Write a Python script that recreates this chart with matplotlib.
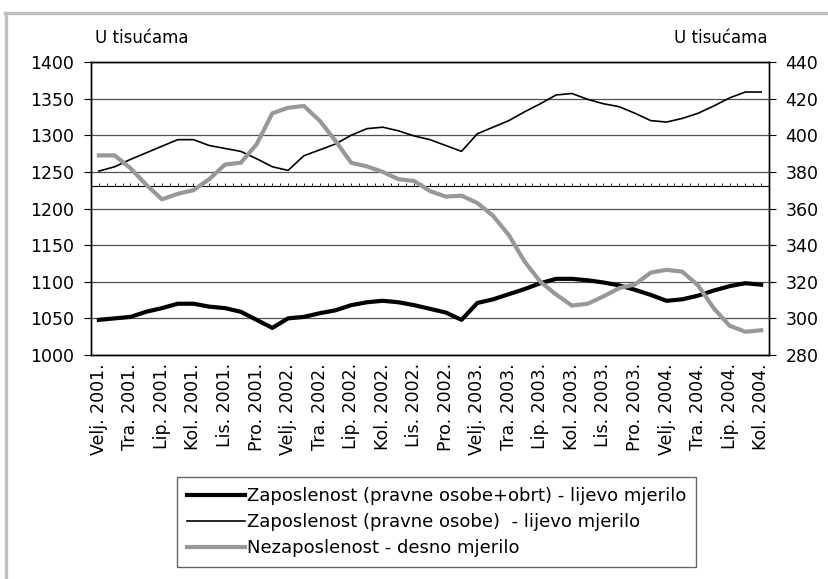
import numpy as np
import matplotlib
matplotlib.use("Agg")
import matplotlib.pyplot as plt
from matplotlib.lines import Line2D

# === DATA (monthly, Velj. 2001 - Kol. 2004) ===
tick_labels = ["Velj. 2001.", "Tra. 2001.", "Lip. 2001.", "Kol. 2001.", "Lis. 2001.", "Pro. 2001.",
               "Velj. 2002.", "Tra. 2002.", "Lip. 2002.", "Kol. 2002.", "Lis. 2002.", "Pro. 2002.",
               "Velj. 2003.", "Tra. 2003.", "Lip. 2003.", "Kol. 2003.", "Lis. 2003.", "Pro. 2003.",
               "Velj. 2004.", "Tra. 2004.", "Lip. 2004.", "Kol. 2004."]

# employment, legal entities + crafts (left scale)
emp_total = [1048, 1050, 1052, 1059, 1064, 1070, 1070, 1066, 1064, 1059, 1048, 1037,
             1050, 1052, 1057, 1061, 1068, 1072, 1074, 1072, 1068, 1063, 1058, 1048,
             1071, 1076, 1083, 1090, 1098, 1104, 1104, 1102, 1099, 1095, 1089, 1082,
             1074, 1076, 1081, 1088, 1094, 1098, 1096]

# employment, legal entities (left scale)
emp_legal = [1251, 1257, 1267, 1276, 1285, 1294, 1294, 1286, 1282, 1278, 1268, 1257,
             1252, 1272, 1280, 1288, 1300, 1309, 1311, 1306, 1299, 1294, 1286, 1278,
             1302, 1311, 1320, 1332, 1343, 1355, 1357, 1349, 1343, 1339, 1330, 1320,
             1318, 1323, 1330, 1340, 1351, 1359, 1359]

# unemployment (right scale)
unemp = [389, 389, 382, 373, 365, 368, 370, 376, 384, 385, 395, 412,
         415, 416, 408, 397, 385, 383, 380, 376, 375, 369.5, 366.5, 367,
         363, 356, 345.5, 331, 320, 313, 307, 308, 312, 316.5, 318.5, 325,
         326.5, 325.5, 318, 305.5, 296, 292.7, 293.5]

x = np.arange(len(emp_total))

plt.rcParams['font.family'] = ['DejaVu Sans']
FS = 12

fig = plt.figure(figsize=(8.29, 5.79), dpi=100)
ax = fig.add_axes([91/829, 1 - 355/579, (769 - 91)/829, (355 - 62)/579])
ax2 = ax.twinx()

grid_col = '#505050'
ax.set_xlim(-0.5, len(x) - 0.5)
ax.set_ylim(1000, 1400)
ax.set_yticks(np.arange(1000, 1401, 50))
ax.yaxis.grid(True, color=grid_col, linewidth=0.9)
ax.set_axisbelow(True)
ax2.set_ylim(280, 440)
ax2.set_yticks(np.arange(280, 441, 20))

ax.plot(x, emp_total, color='black', linewidth=3.0, solid_joinstyle='round',
        label="Zaposlenost (pravne osobe+obrt) - lijevo mjerilo")
ax.plot(x, emp_legal, color='black', linewidth=1.2,
        label="Zaposlenost (pravne osobe)  - lijevo mjerilo")
ax2.plot(x, unemp, color='#989898', linewidth=3.0, solid_joinstyle='round',
         label="Nezaposlenost - desno mjerilo")

# secondary category axis drawn inside the plot (dotted look from ticks)
sec = ax.secondary_xaxis(location=(1230.5 - 1000) / 400)
sec.set_xticks(np.arange(-0.5, len(x), 0.5))
sec.tick_params(axis='x', length=2.5, width=0.6, labelbottom=False, labeltop=False, direction='out')
sec.spines['bottom'].set_linewidth(0.9)

ax.set_xticks(x[::2])
ax.set_xticklabels(tick_labels, rotation=90, fontsize=FS + 0.5)
ax.tick_params(axis='x', length=0, pad=6)
ax.tick_params(axis='y', labelsize=FS + 0.5, length=5, pad=7)
ax2.tick_params(axis='y', labelsize=FS + 0.5, length=5, pad=7)
for a in (ax, ax2):
    for s in a.spines.values():
        s.set_linewidth(1.0)
        s.set_color('black')

fig.text(95/829, 1 - 38/579, "U tisućama", fontsize=FS, ha='left', va='center')
fig.text(768/829, 1 - 38/579, "U tisućama", fontsize=FS, ha='right', va='center')

h1, l1 = ax.get_legend_handles_labels()
h2, l2 = ax2.get_legend_handles_labels()
leg = fig.legend(h1 + h2, l1 + l2, loc='upper left', bbox_to_anchor=(177/829, 1 - 477/579),
                 fontsize=FS + 1, frameon=True, fancybox=False, handlelength=3.2,
                 handletextpad=0.1, labelspacing=0.45, borderpad=0.55, borderaxespad=0)
leg.get_frame().set_edgecolor('#404040')
leg.get_frame().set_linewidth(1.0)

# grey frame lines of the original figure
fig.add_artist(Line2D([6.5/829, 6.5/829], [0, 1 - 12.5/579], transform=fig.transFigure,
                      color='#c0c0c0', linewidth=2.4))
fig.add_artist(Line2D([5/829, 1], [1 - 12.5/579, 1 - 12.5/579], transform=fig.transFigure,
                      color='#c0c0c0', linewidth=2.4))

fig.savefig("out.png", dpi=100)
